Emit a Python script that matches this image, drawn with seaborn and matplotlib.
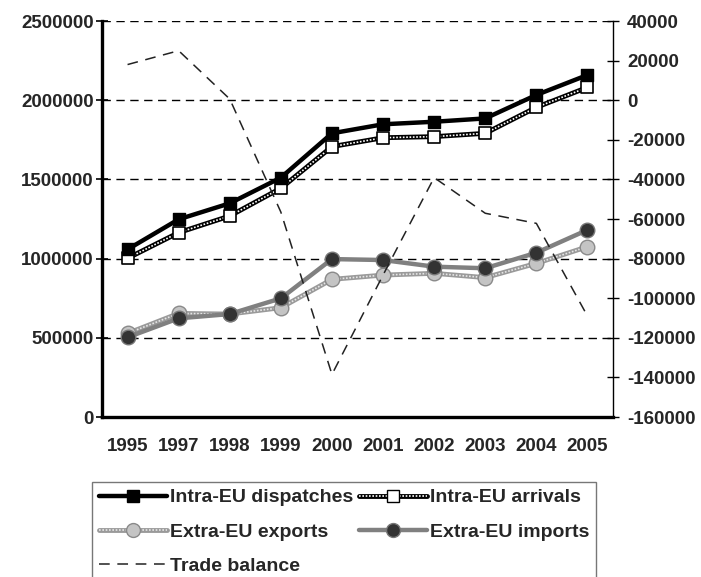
import numpy as np
import pandas as pd
import matplotlib
matplotlib.use("Agg")
import matplotlib.pyplot as plt
import seaborn as sns
from matplotlib.lines import Line2D
from matplotlib.font_manager import FontProperties

# data
years = ["1995", "1997", "1998", "1999", "2000", "2001", "2002", "2003", "2004", "2005"]
intra_dispatches = [1058000, 1248000, 1349000, 1511000, 1791000, 1848000, 1864000, 1885000, 2033000, 2159000]
intra_arrivals = [1002000, 1164000, 1269000, 1444000, 1707000, 1763000, 1770000, 1791000, 1955000, 2081000]
extra_exports = [528000, 654000, 650000, 690000, 869000, 896000, 907000, 880000, 970000, 1075000]
extra_imports = [503000, 623000, 650000, 749000, 997000, 991000, 949000, 939000, 1037000, 1181000]
trade_balance = [18000, 25000, 600, -56500, -138500, -88300, -39100, -57100, -62200, -109000]

df = pd.DataFrame({
    "pos": np.arange(len(years)),
    "year": years,
    "disp": intra_dispatches,
    "arr": intra_arrivals,
    "exp": extra_exports,
    "imp": extra_imports,
    "tb": trade_balance,
})

sns.set_style("white")
plt.rcParams["font.family"] = ["Liberation Sans", "DejaVu Sans"]
plt.rcParams["font.weight"] = "bold"

fig = plt.figure(figsize=(7.01, 5.77), dpi=100)
ax = fig.add_axes([102 / 701, 1 - 417 / 577, 511 / 701, 396 / 577])

# grid lines (dashed) at left major ticks
for v in range(0, 2500001, 500000):
    ax.axhline(v, color="black", lw=1, ls=(0, (6, 4)), zorder=0)

# extra-EU exports: grey mesh line with light circles
sns.lineplot(data=df, x="pos", y="exp", ax=ax, color="#9a9a9a", lw=3.5, zorder=2)
ax.plot(df["pos"], df["exp"], color="#e6e6e6", lw=1.2, ls=(0, (1, 1)), zorder=2.1)
sns.scatterplot(data=df, x="pos", y="exp", ax=ax, color="#c4c4c4", edgecolor="#8a8a8a",
                linewidth=1, s=110, zorder=2.2)

# extra-EU imports: solid grey with dark circles
sns.lineplot(data=df, x="pos", y="imp", ax=ax, color="#808080", lw=3.2, zorder=3)
sns.scatterplot(data=df, x="pos", y="imp", ax=ax, color="#333333", edgecolor="#777777",
                linewidth=1, s=110, zorder=3.2)

# intra-EU arrivals: black mesh line with white squares
sns.lineplot(data=df, x="pos", y="arr", ax=ax, color="black", lw=3.5, zorder=4)
ax.plot(df["pos"], df["arr"], color="white", lw=1.2, ls=(0, (1, 1)), zorder=4.1)
sns.scatterplot(data=df, x="pos", y="arr", ax=ax, marker="s", color="white", edgecolor="black",
                linewidth=1.2, s=85, zorder=4.2)

# intra-EU dispatches: black line with black squares
sns.lineplot(data=df, x="pos", y="disp", ax=ax, color="black", lw=3.2, zorder=5)
sns.scatterplot(data=df, x="pos", y="disp", ax=ax, marker="s", color="black", edgecolor="black",
                linewidth=1, s=85, zorder=5.2)

ax.set_ylim(0, 2500000)
ax.set_xlim(-0.5, len(years) - 0.5)
ax.set_yticks(range(0, 2500001, 500000))
ax.set_yticklabels([str(v) for v in range(0, 2500001, 500000)], fontsize=13.5, fontweight="bold")
ax.set_xticks(df["pos"])
ax.set_xticklabels(years, fontsize=13.5, fontweight="bold")
ax.set_xticks(np.arange(-0.5, len(years), 1), minor=True)
ax.tick_params(axis="x", which="major", length=0, pad=15)
ax.tick_params(axis="x", which="minor", length=6, width=2, direction="out", color="black")
ax.tick_params(axis="y", which="major", length=8, width=1.2, direction="inout", color="black", pad=2)
ax.set_xlabel("")
ax.set_ylabel("")
ax.spines["top"].set_visible(False)
ax.spines["right"].set_visible(False)
ax.spines["left"].set_linewidth(2.4)
ax.spines["bottom"].set_linewidth(2.4)
ax.spines["left"].set_color("black")
ax.spines["bottom"].set_color("black")

# trade balance on right axis
ax2 = ax.twinx()
sns.lineplot(data=df, x="pos", y="tb", ax=ax2, color="#222222", lw=1.1, ls=(0, (7, 5)))
ax2.set_ylim(-160000, 40000)
ax2.set_yticks(range(-160000, 40001, 20000))
ax2.set_yticklabels([str(v) for v in range(-160000, 40001, 20000)], fontsize=13.5, fontweight="bold")
ax2.tick_params(axis="y", length=8, width=1, direction="inout", color="black", pad=6)
ax2.set_ylabel("")
for s in ["top", "left", "bottom"]:
    ax2.spines[s].set_visible(False)
ax2.spines["right"].set_color("black")
ax2.spines["right"].set_linewidth(1)

# legend
h_disp = Line2D([], [], color="black", lw=3.2, marker="s", ms=9, mfc="black", mec="black")
h_arr = (Line2D([], [], color="black", lw=3.5),
         Line2D([], [], color="white", lw=1.2, ls=(0, (1, 1)), marker="s", ms=9, mfc="white", mec="black"))
h_exp = (Line2D([], [], color="#9a9a9a", lw=3.5),
         Line2D([], [], color="#e6e6e6", lw=1.2, ls=(0, (1, 1)), marker="o", ms=10, mfc="#c4c4c4", mec="#8a8a8a"))
h_imp = Line2D([], [], color="#808080", lw=3.2, marker="o", ms=10, mfc="#333333", mec="#777777")
h_tb = Line2D([], [], color="#222222", lw=1.1, ls=(0, (7, 5)))

leg_font = FontProperties(family="Liberation Sans", weight="bold", size=14)
leg = fig.legend([h_disp, h_exp, h_tb, h_arr, h_imp],
                 ["Intra-EU dispatches", "Extra-EU exports", "Trade balance",
                  "Intra-EU arrivals", "Extra-EU imports"],
                 loc="upper left", bbox_to_anchor=(92 / 701, 1 - 482 / 577), ncol=2,
                 prop=leg_font, handlelength=3.5, handletextpad=0.15,
                 columnspacing=0.3, labelspacing=0.85, borderpad=0.35, borderaxespad=0,
                 frameon=True, fancybox=False)
leg.get_frame().set_edgecolor("#555555")
leg.get_frame().set_linewidth(1)

fig.savefig("out.png", dpi=100)
